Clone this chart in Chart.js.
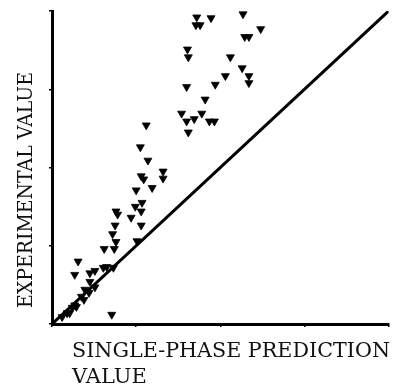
<!DOCTYPE html>
<html>
<head>
<meta charset="utf-8">
<script src="https://cdn.jsdelivr.net/npm/chart.js@4/dist/chart.umd.min.js"></script>
<style>
  html,body{margin:0;padding:0;background:#fff}
  #wrap{width:394px;height:384px}
</style>
</head>
<body>
<div id="wrap"><canvas id="c" width="394" height="384"></canvas></div>
<script>
// measured points, (single-phase prediction, experimental)
const predX = [1.72,1.89,2.27,1.71,1.76,2.48,2.29,2.34,1.61,1.62,2.12,2.26,2.06,2.34,2.34,1.94,1.60,1.82,
  1.54,1.78,1.60,1.69,1.87,1.93,1.12,1.62,1.05,1.14,1.32,1.32,1.06,1.09,1.19,1.00,1.07,0.99,1.06,0.76,
  0.78,0.94,0.75,1.06,0.72,0.76,1.01,0.62,0.74,0.31,0.27,0.45,0.51,0.61,0.65,0.73,0.45,0.51,0.39,0.44,
  0.35,0.38,0.27,0.29,0.24,0.21,0.18,0.12,0.71];
const expY = [3.92,3.91,3.96,3.82,3.82,3.77,3.67,3.67,3.51,3.41,3.41,3.27,3.17,3.17,3.08,3.06,3.03,2.87,
  2.69,2.69,2.59,2.62,2.59,2.59,2.54,2.45,2.26,2.09,1.95,1.86,1.89,1.85,1.74,1.71,1.55,1.50,1.44,1.44,
  1.40,1.36,1.26,1.26,1.15,1.05,1.06,0.96,0.96,0.80,0.63,0.65,0.68,0.72,0.73,0.72,0.54,0.47,0.44,0.40,
  0.35,0.31,0.24,0.22,0.21,0.14,0.14,0.09,0.12];
const parityX = [0,4];
const parityY = [0,4];
const xTitle = ['SINGLE-PHASE PREDICTION','VALUE'];
const yTitle = 'EXPERIMENTAL VALUE';

const titles = {
  id:'titles',
  afterDraw(chart){
    const ctx = chart.ctx, a = chart.chartArea;
    ctx.save();
    ctx.fillStyle = '#111';
    ctx.font = '21px "DejaVu Serif"';
    ctx.textBaseline = 'alphabetic';
    ctx.textAlign = 'left';
    ctx.fillText(xTitle[0], 72, a.bottom+33, 318);
    ctx.fillText(xTitle[1], 72, a.bottom+59);
    ctx.translate(32, 190);
    ctx.rotate(-Math.PI/2);
    ctx.textAlign = 'center';
    ctx.fillText(yTitle, 0, 0, 236);
    ctx.restore();
  }
};

const axis = (extra) => Object.assign({
  type:'linear', min:0, max:4,
  ticks:{display:false, stepSize:1},
  grid:{drawOnChartArea:false, drawTicks:true, tickLength:3, color:'#000', lineWidth:1.5},
  border:{display:true, color:'#000', width:3}
}, extra);

new Chart(document.getElementById('c'), {
  type:'scatter',
  data:{
    datasets:[
      {
        data: predX.map((x,i)=>({x:x, y:expY[i]})),
        pointStyle:'triangle', rotation:180, radius:4.6, hoverRadius:4.6,
        backgroundColor:'#000', borderColor:'#000', borderWidth:0.8
      },
      {
        type:'line',
        data: parityX.map((x,i)=>({x:x, y:parityY[i]})),
        borderColor:'#000', borderWidth:3, pointRadius:0, fill:false
      }
    ]
  },
  options:{
    responsive:false, animation:false, devicePixelRatio:1,
    layout:{padding:{left:49, top:11, right:-3, bottom:57}},
    plugins:{legend:{display:false}, tooltip:{enabled:false}},
    scales:{ x: axis({position:'bottom'}), y: axis({position:'left'}) }
  },
  plugins:[titles]
});
</script>
</body>
</html>
